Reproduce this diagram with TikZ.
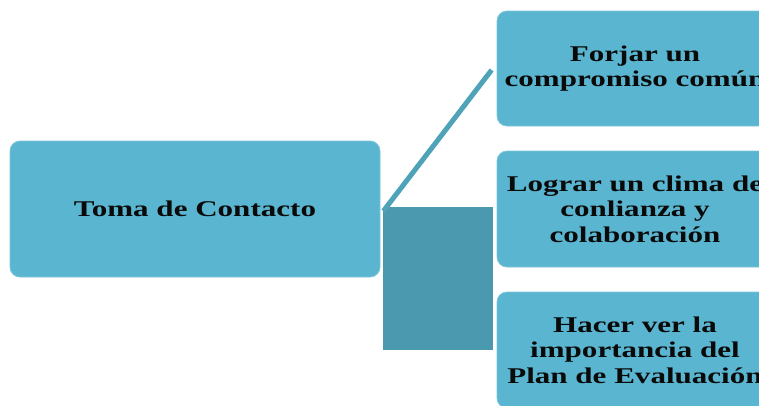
\documentclass[tikz,border=0pt]{standalone}
\usepackage{fontspec}
\setmainfont{Liberation Serif}
\newfontfamily\cardfont[FakeStretch=1.38]{Liberation Serif}
\definecolor{boxfill}{HTML}{5AB6D0}
\definecolor{boxedge}{HTML}{7CC5DA}
\definecolor{darkbar}{HTML}{4A99AE}
\definecolor{linkcol}{HTML}{4FA3B8}
\definecolor{txt}{HTML}{0A0A0A}
\tikzset{
  card/.style={draw=boxedge, line width=0.8pt, fill=boxfill, rounded corners=10pt,
    align=center, text=txt, font=\cardfont\fontsize{22.5}{25.5}\selectfont\bfseries, inner sep=0pt},
}
\begin{document}
\begin{tikzpicture}[x=1pt,y=-1pt]
\useasboundingbox (0,0) rectangle (759,405);
\node[card, minimum width=370pt, minimum height=136pt] (lbox) at (195,209) {Toma de Contacto};
\node[fill=darkbar, minimum width=110pt, minimum height=143pt, inner sep=0pt] (bar) at (438,278.5) {};
\node[card, minimum width=276pt, minimum height=115pt] (b1) at (635,68.5) {Forjar un\\compromiso común};
\node[card, minimum width=276pt, minimum height=116pt] (b2) at (635,209) {Lograr un clima de\\conlianza y\\colaboración};
\node[card, minimum width=276pt, minimum height=116pt] (b3) at (635,350) {Hacer ver la\\importancia del\\Plan de Evaluación};
\draw[linkcol, line width=5pt] ([xshift=3pt,yshift=-2pt]lbox.east) -- ([xshift=-5pt,yshift=-1.5pt]b1.west);
\end{tikzpicture}
\end{document}
